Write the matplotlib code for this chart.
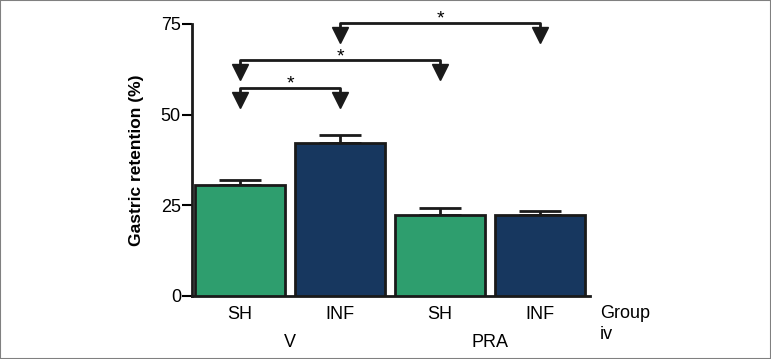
import matplotlib.pyplot as plt

plt.rcParams['font.family'] = ['Liberation Sans', 'DejaVu Sans']

# Bars: group V then PRA, each SH and INF
groups = ["SH", "INF", "SH", "INF"]
treatments = ["V", "PRA"]
retention = [30.5, 42.2, 22.3, 22.2]
sem = [1.5, 2.3, 1.9, 1.3]
colors = ['#2e9e6e', '#17375f', '#2e9e6e', '#17375f']
yticks = [0, 25, 50, 75]

# significance brackets: (left bar, right bar, level)
brackets = [(1, 3, 75.3), (0, 2, 65.0), (0, 1, 57.3)]

fig = plt.figure(figsize=(7.71, 3.59), dpi=100)
ax = fig.add_axes([192 / 771, 63 / 359, 398 / 771, 272 / 359])

x = list(range(len(retention)))
ax.bar(x, retention, width=0.9, color=colors, edgecolor='#1a1a1a', linewidth=2, zorder=3)
ax.errorbar(x, retention, yerr=[[0] * 4, sem], fmt='none', ecolor='#1a1a1a',
            elinewidth=2, capsize=15, capthick=2, zorder=2)

ax.set_xlim(-0.48, 3.5)
ax.set_ylim(0, 75)
ax.set_yticks(yticks)
ax.set_xticks(x)
ax.set_xticklabels(groups, fontsize=13)
ax.tick_params(axis='x', length=0, pad=7)
ax.tick_params(axis='y', length=7, width=1.5, labelsize=13, pad=1)
for s in ['top', 'right']:
    ax.spines[s].set_visible(False)
for s in ['left', 'bottom']:
    ax.spines[s].set_linewidth(2)
    ax.spines[s].set_color('#1a1a1a')

ax.set_ylabel("Gastric retention (%)", fontsize=12.5, fontweight='bold', labelpad=12)

# second row labels
ax.text(0.5, -0.17, treatments[0], transform=ax.get_xaxis_transform(), ha='center', va='center', fontsize=13)
ax.text(2.5, -0.17, treatments[1], transform=ax.get_xaxis_transform(), ha='center', va='center', fontsize=13)
ax.text(3.6, -0.065, "Group", transform=ax.get_xaxis_transform(), ha='left', va='center', fontsize=13)
ax.text(3.6, -0.14, "iv", transform=ax.get_xaxis_transform(), ha='left', va='center', fontsize=13)

# brackets with arrows
for a, b, lvl in brackets:
    tip = lvl - 5.3
    ax.plot([a, a, b, b], [tip + 2, lvl, lvl, tip + 2], color='#1a1a1a', lw=2, clip_on=False, zorder=4)
    ax.plot([a, b], [tip + 2, tip + 2], linestyle='none', marker='v', markersize=12,
            color='#1a1a1a', clip_on=False, zorder=4)
    ax.text((a + b) / 2, lvl - 1.3, "*", ha='center', va='bottom', fontsize=14, clip_on=False)

# thin frame around picture
fig.patches.append(plt.Rectangle((0, 0), 1, 1, transform=fig.transFigure, fill=False,
                                 edgecolor='#808080', linewidth=1.5))

fig.savefig("out.png", dpi=100)
